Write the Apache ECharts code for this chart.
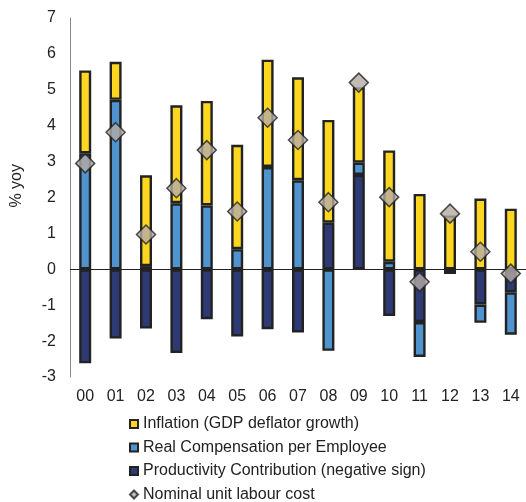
<!DOCTYPE html>
<html>
<head>
<meta charset="utf-8">
<script src="https://cdn.jsdelivr.net/npm/echarts@6/dist/echarts.min.js"></script>
<style>
html,body{margin:0;padding:0;background:#fff;}
#main{width:526px;height:502px;}
</style>
</head>
<body>
<div id="main"></div>
<script>
// years
var years = ['00','01','02','03','04','05','06','07','08','09','10','11','12','13','14'];
// Inflation (GDP deflator growth)
var inflation = [2.31,1.06,2.53,2.73,2.91,2.91,2.99,2.87,2.86,2.10,3.10,2.10,1.50,1.97,1.69];
// Real Compensation per Employee
var realComp = [3.23,4.72,0.09,1.84,1.78,0.56,2.85,2.48,-2.27,0.34,0.21,-0.97,0,-0.51,-1.18];
// Productivity Contribution (negative sign)
var productivity = [-2.62,-1.93,-1.65,-2.33,-1.39,-1.87,-1.67,-1.76,1.30,2.63,-1.30,-1.47,-0.10,-0.98,-0.64];
// Nominal unit labour cost
var nulc = [2.95,3.82,0.97,2.26,3.32,1.61,4.22,3.60,1.87,5.20,2.01,-0.35,1.55,0.49,-0.12];

var yTicks = {min:-3, max:7, step:1};

var FONT = 'Liberation Sans, Arial, sans-serif';
var myChart = echarts.init(document.getElementById('main'));

function barSeries(name, data, color){
	return {
		name:name,
		type:'bar',
		stack:'total',
		barWidth:12,
		data:data,
		itemStyle:{color:color, borderColor:'#222', borderWidth:2.4},
		emphasis:{disabled:true}
	};
}

var option = {
	animation:false,
	grid:{left:70, top:18, width:460, height:359},
	legend:{
		orient:'vertical',
		left:129,
		top:416,
		padding:0,
		height:100,
		itemWidth:8,
		itemHeight:8,
		itemGap:7.5,
		textStyle:{fontFamily:FONT, fontSize:16, color:'#222'},
		data:[
			{name:'Inflation (GDP deflator growth)', icon:'rect'},
			{name:'Real Compensation per Employee', icon:'rect'},
			{name:'Productivity Contribution (negative sign)', icon:'rect'},
			{name:'Nominal unit labour cost', icon:'diamond'}
		]
	},
	graphic:[{
		type:'text',
		left:9,
		top:164,
		rotation:Math.PI/2,
		style:{text:'% yoy', font:'16px ' + FONT, fill:'#222'}
	}],
	xAxis:{
		type:'category',
		data:years,
		axisLine:{show:false, onZero:false},
		axisTick:{show:false},
		axisLabel:{fontFamily:FONT, fontSize:16, color:'#222', margin:12}
	},
	yAxis:{
		type:'value',
		min:yTicks.min,
		max:yTicks.max,
		interval:yTicks.step,
		axisLine:{show:true, lineStyle:{color:'#888', width:1}},
		axisTick:{show:false},
		splitLine:{show:false},
		axisLabel:{fontFamily:FONT, fontSize:16, color:'#222', margin:14}
	},
	series:[
		barSeries('Productivity Contribution (negative sign)', productivity, '#2e3a74'),
		barSeries('Real Compensation per Employee', realComp, '#4f93cf'),
		barSeries('Inflation (GDP deflator growth)', inflation, '#fdd71f'),
		{
			name:'Nominal unit labour cost',
			type:'scatter',
			symbol:'diamond',
			symbolSize:19,
			data:nulc,
			z:5,
			itemStyle:{color:'#b4aba4', borderColor:'#222', borderWidth:1.5},
			markLine:{
				silent:true,
				symbol:'none',
				label:{show:false},
				lineStyle:{color:'#222', width:1, type:'solid'},
				data:[{yAxis:0}]
			}
		}
	]
};
myChart.setOption(option);
</script>
</body>
</html>
